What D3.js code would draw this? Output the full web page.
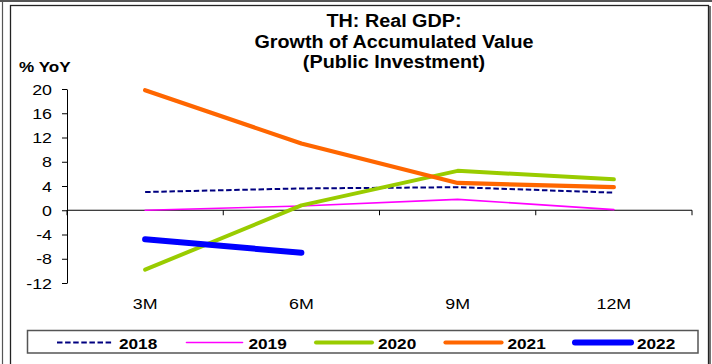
<!DOCTYPE html>
<html>
<head>
<meta charset="utf-8">
<script src="https://cdn.jsdelivr.net/npm/d3@7"></script>
<style>
  html, body { margin: 0; padding: 0; background: #fff; }
  svg { display: block; font-family: Arial, "Liberation Sans", sans-serif; }
</style>
</head>
<body>
<svg id="chart" width="712" height="364"></svg>
<script>
const categories = ["3M", "6M", "9M", "12M"];
const years = ["2018", "2019", "2020", "2021", "2022"];
const values2018 = [3.0, 3.6, 3.8, 2.9];
const values2019 = [0.0, 0.7, 1.8, 0.1];
const values2020 = [-9.8, 0.8, 6.5, 5.1];
const values2021 = [19.8, 11.0, 4.5, 3.8];
const values2022 = [-4.8, -7.0, null, null];
const yTicks = [20, 16, 12, 8, 4, 0, -4, -8, -12];
const titleLines = ["TH: Real GDP:", "Growth of Accumulated Value", "(Public Investment)"];
const yLabel = "% YoY";

const seriesValues = [values2018, values2019, values2020, values2021, values2022];
const styles = [
  { color: "#000080", width: 2, dash: "5.5,2.6", cap: "butt" },
  { color: "#FF00FF", width: 1.6, dash: null, cap: "round" },
  { color: "#99CC00", width: 4, dash: null, cap: "round" },
  { color: "#FF6600", width: 4.2, dash: null, cap: "round" },
  { color: "#0000FF", width: 6, dash: null, cap: "round" }
];

const svg = d3.select("#chart");
const SX = 1.13;

function stretchedText(g, x, y, str, opts) {
  const t = g.append("text")
    .attr("transform", `translate(${x},${y}) scale(${opts.sx || SX},1)`)
    .attr("text-anchor", opts.anchor || "start")
    .attr("font-size", opts.size)
    .attr("font-weight", opts.weight || "normal")
    .attr("fill", "#000")
    .text(str);
  if (opts.dy) t.attr("dy", opts.dy);
  return t;
}

// Frames
svg.append("line").attr("x1", 0).attr("x2", 712).attr("y1", 1).attr("y2", 1)
  .attr("stroke", "#555").attr("stroke-width", 2);
svg.append("line").attr("x1", 2.5).attr("x2", 2.5).attr("y1", 0).attr("y2", 364)
  .attr("stroke", "#555").attr("stroke-width", 1.2);
svg.append("rect").attr("x", 10.5).attr("y", 5.5).attr("width", 698).attr("height", 370)
  .attr("fill", "#fff").attr("stroke", "#222").attr("stroke-width", 1.3);
svg.append("line").attr("x1", 710).attr("x2", 710).attr("y1", 6).attr("y2", 364)
  .attr("stroke", "#444").attr("stroke-width", 1.5);

const plot = { left: 67, right: 692, top: 89, bottom: 283 };
const x = d3.scaleBand().domain(categories).range([plot.left, plot.right]).padding(0);
const y = d3.scaleLinear().domain([-12, 20]).range([plot.bottom, plot.top]);

// Title
titleLines.forEach((s, i) => {
  stretchedText(svg, 394, 27 + i * 20.5, s, { size: 17.5, weight: "bold", anchor: "middle", sx: 1.13 });
});
stretchedText(svg, 19, 72, yLabel, { size: 15, weight: "bold", sx: 1.14 });

// Y axis
const yAxis = d3.axisLeft(y).tickValues(yTicks).tickSize(5).tickSizeOuter(0).tickFormat(d => "");
const yg = svg.append("g").attr("transform", `translate(${plot.left},0)`).call(yAxis);
yg.select(".domain").attr("stroke", "#000").attr("stroke-width", 1);
yg.selectAll(".tick line").attr("stroke", "#000");
yTicks.forEach(v => {
  stretchedText(svg, 52, y(v), String(v), { size: 15.5, anchor: "end", dy: "0.36em", sx: 1.15 });
});

// Zero line axis with ticks at category boundaries
const boundaries = [plot.left].concat(categories.map(c => x(c) + x.bandwidth()));
svg.append("line").attr("x1", plot.left).attr("x2", plot.right)
  .attr("y1", y(0)).attr("y2", y(0)).attr("stroke", "#000").attr("stroke-width", 1);
svg.selectAll(".xtick").data(boundaries).enter().append("line")
  .attr("x1", d => d).attr("x2", d => d)
  .attr("y1", y(0)).attr("y2", y(0) + 5).attr("stroke", "#000");

// X labels
categories.forEach(c => {
  stretchedText(svg, x(c) + x.bandwidth() / 2, 309, c, { size: 15.5, anchor: "middle", sx: 1.15 });
});

// Lines
const lineGen = d3.line()
  .defined(d => d.v !== null)
  .x(d => x(d.c) + x.bandwidth() / 2)
  .y(d => y(d.v));

seriesValues.forEach((vals, i) => {
  const data = categories.map((c, j) => ({ c, v: vals[j] }));
  const st = styles[i];
  const p = svg.append("path").datum(data)
    .attr("d", lineGen)
    .attr("fill", "none")
    .attr("stroke", st.color)
    .attr("stroke-width", st.width)
    .attr("stroke-linecap", st.cap)
    .attr("stroke-linejoin", "round");
  if (st.dash) p.attr("stroke-dasharray", st.dash);
});

// Legend
svg.append("rect").attr("x", 27.5).attr("y", 330.5).attr("width", 670.5).attr("height", 22.5)
  .attr("fill", "#fff").attr("stroke", "#555").attr("stroke-width", 1.5);
years.forEach((yr, i) => {
  const x0 = 57 + i * 129.5;
  const st = styles[i];
  const l = svg.append("line").attr("x1", x0).attr("x2", x0 + 56)
    .attr("y1", 342.5).attr("y2", 342.5)
    .attr("stroke", st.color).attr("stroke-width", st.width)
    .attr("stroke-linecap", st.cap);
  if (st.dash) l.attr("stroke-dasharray", st.dash);
  stretchedText(svg, x0 + 62, 348.5, yr, { size: 15.5, weight: "bold", sx: 1.11 });
});
</script>
</body>
</html>
